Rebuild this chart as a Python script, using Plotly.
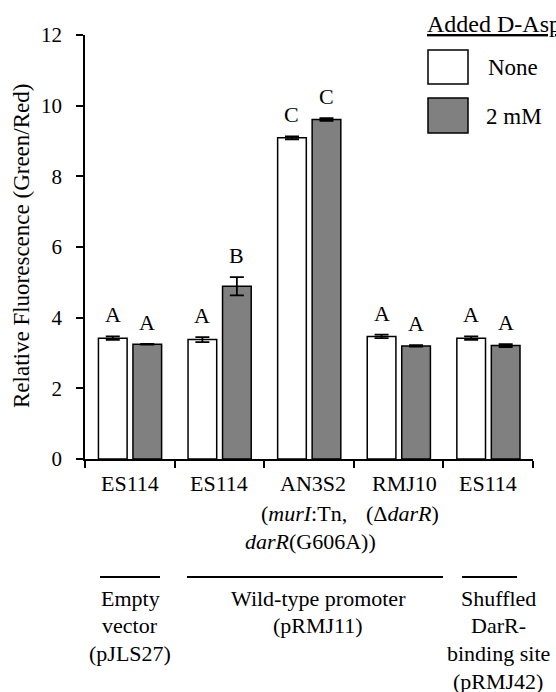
import plotly.graph_objects as go

# ---- data ----
strains = ["ES114", "ES114", "AN3S2", "RMJ10", "ES114"]
strain_line2 = ["", "", "(<i>murI</i>:Tn,", "(Δ<i>darR</i>)", ""]
strain_line3 = ["", "", "<i>darR</i>(G606A))", "", ""]
none_vals = [3.42, 3.38, 9.09, 3.47, 3.42]
none_err = [0.05, 0.07, 0.04, 0.05, 0.05]
mm2_vals = [3.25, 4.89, 9.61, 3.20, 3.21]
mm2_err = [0.01, 0.26, 0.04, 0.02, 0.04]
none_letters = ["A", "A", "C", "A", "A"]
mm2_letters = ["A", "B", "C", "A", "A"]
groups = ["Empty<br>vector<br>(pJLS27)", "Wild-type promoter<br>(pRMJ11)",
          "Shuffled<br>DarR-<br>binding site<br>(pRMJ42)"]
series_names = ["None", "2 mM"]
legend_title = "Added D-Asp"
y_title = "Relative Fluorescence (Green/Red)"

FONT = "Liberation Serif"
W, H = 556, 692
L, R, T, B = 85, 23, 35, 233
PW, PH = W - L - R, H - T - B


def px2p(px):
    return (px - L) / PW


def py2p(py):
    return (H - B - py) / PH


xs = list(range(len(strains)))
BW = 0.32
OFF_N, OFF_M = -0.35, 0.035

fig = go.Figure()
fig.add_trace(go.Bar(
    x=xs, y=none_vals, width=BW, offset=OFF_N, name=series_names[0],
    marker=dict(color="white", line=dict(color="black", width=1.5)),
    error_y=dict(type="data", array=none_err, color="black", thickness=1.8, width=7),
))
fig.add_trace(go.Bar(
    x=xs, y=mm2_vals, width=BW, offset=OFF_M, name=series_names[1],
    marker=dict(color="#808080", line=dict(color="black", width=1.5)),
    error_y=dict(type="data", array=mm2_err, color="black", thickness=1.8, width=7),
))

ann = []
txt = dict(family=FONT, size=22, color="black")
# significance letters
for i in xs:
    ann.append(dict(x=i + OFF_N + BW / 2, y=none_vals[i] + none_err[i], text=none_letters[i],
                    xref="x", yref="y", showarrow=False, yanchor="bottom", yshift=7, font=txt))
    ann.append(dict(x=i + OFF_M + BW / 2, y=mm2_vals[i] + mm2_err[i], text=mm2_letters[i],
                    xref="x", yref="y", showarrow=False, yanchor="bottom", yshift=7, font=txt))

# category labels
row1_shift = [0, 0, 4, 6, 0]
row2_shift = [0, 0, -5, 4, 0]
row3_shift = [0, 0, 1, 0, 0]
for i in xs:
    ann.append(dict(x=i, y=py2p(484), text=strains[i], xref="x", yref="paper", showarrow=False,
                    yanchor="middle", xshift=row1_shift[i], font=txt))
    if strain_line2[i]:
        ann.append(dict(x=i, y=py2p(513), text=strain_line2[i], xref="x", yref="paper",
                        showarrow=False, yanchor="middle", xshift=row2_shift[i], font=txt))
    if strain_line3[i]:
        ann.append(dict(x=i, y=py2p(541), text=strain_line3[i], xref="x", yref="paper",
                        showarrow=False, yanchor="middle", xshift=row3_shift[i], font=txt))

# group labels and lines
group_lines = [(100, 160), (187, 443), (462, 517)]
group_cx = [130, 318, 498]
shapes = []
for (a, b), cx, g in zip(group_lines, group_cx, groups):
    shapes.append(dict(type="line", xref="paper", yref="paper", x0=px2p(a), x1=px2p(b),
                       y0=py2p(577), y1=py2p(577), line=dict(color="black", width=2)))
    for k, line in enumerate(g.split("<br>")):
        ann.append(dict(x=px2p(cx), y=py2p(598 + 27.7 * k), text=line, xref="paper", yref="paper",
                        showarrow=False, yanchor="middle", xanchor="center", font=txt))

# legend (drawn)
lfont = dict(family=FONT, size=23, color="black")
shapes.append(dict(type="rect", xref="paper", yref="paper", x0=px2p(428), x1=px2p(468),
                   y0=py2p(84), y1=py2p(50), fillcolor="white", line=dict(color="black", width=1.5)))
shapes.append(dict(type="rect", xref="paper", yref="paper", x0=px2p(428), x1=px2p(468),
                   y0=py2p(133), y1=py2p(98), fillcolor="#808080", line=dict(color="black", width=1.5)))
ann.append(dict(x=px2p(486), y=py2p(67), text=series_names[0], xref="paper", yref="paper",
                showarrow=False, xanchor="left", yanchor="middle", font=lfont))
ann.append(dict(x=px2p(484), y=py2p(116), text=series_names[1], xref="paper", yref="paper",
                showarrow=False, xanchor="left", yanchor="middle", font=lfont))
ann.append(dict(x=px2p(425), y=py2p(24), text=legend_title, xref="paper", yref="paper",
                showarrow=False, xanchor="left", yanchor="middle",
                font=dict(family=FONT, size=24, color="black", lineposition="under")))

# y title
ann.append(dict(x=px2p(21), y=py2p(246), text=y_title, xref="paper", yref="paper",
                showarrow=False, textangle=-90, xanchor="center", yanchor="middle",
                font=dict(family=FONT, size=23, color="black")))

fig.update_layout(
    width=W, height=H, margin=dict(l=L, r=R, t=T, b=B, autoexpand=False),
    paper_bgcolor="white", plot_bgcolor="white", showlegend=False,
    barmode="overlay", annotations=ann, shapes=shapes,
    font=dict(family=FONT, size=21, color="black"),
)
fig.update_xaxes(range=[-0.5, 4.5], tickvals=[-0.5, 0.5, 1.5, 2.5, 3.5, 4.5], showticklabels=False,
                 ticks="outside", ticklen=7, tickwidth=1.5, tickcolor="black",
                 showline=True, linecolor="black", linewidth=1.5, showgrid=False, zeroline=False)
fig.update_yaxes(range=[0, 12], tickvals=[0, 2, 4, 6, 8, 10, 12], ticks="outside", ticklen=7,
                 tickwidth=1.5, tickcolor="black", showline=True, linecolor="black", linewidth=1.5,
                 showgrid=False, zeroline=False, tickfont=dict(family=FONT, size=21, color="black"),
                 ticklabelstandoff=10)

fig.write_html("out.html", config={"displayModeBar": False},
               post_script="document.body.style.margin='0';document.body.style.overflow='hidden';")
